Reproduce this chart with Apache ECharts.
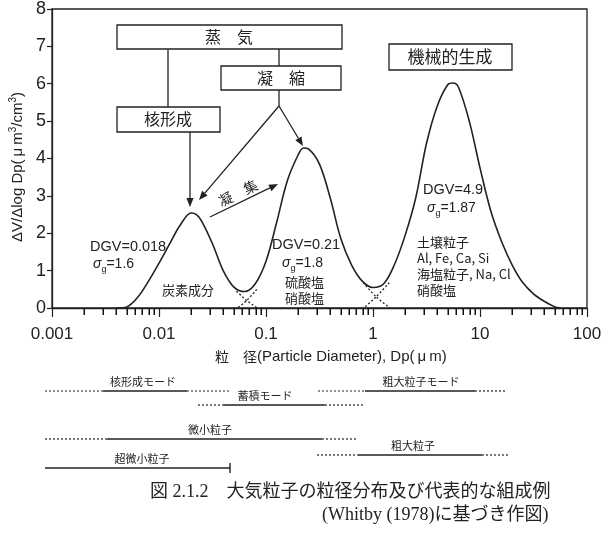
<!DOCTYPE html>
<html>
<head>
<meta charset="utf-8">
<script src="https://cdn.jsdelivr.net/npm/echarts@6/dist/echarts.min.js"></script>
<style>
html,body{margin:0;padding:0;background:#fff}
#main{width:605px;height:538px}
</style>
</head>
<body>
<div id="main"></div>
<script>
// 粒径 (μm) と ΔV/Δlog Dp の読み取り値
var diam = [0.004, 0.005, 0.0063, 0.0079, 0.01, 0.0126, 0.0158, 0.02, 0.0224, 0.0251, 0.0316, 0.0398, 0.0501, 0.0631, 0.0794,
  0.1, 0.126, 0.158, 0.2, 0.224, 0.251, 0.316, 0.398, 0.501, 0.631, 0.794,
  1.0, 1.26, 1.58, 2.0, 2.51, 3.16, 3.98, 5.01, 5.62, 6.31, 7.94, 10, 12.6, 15.8, 20, 25.1, 31.6, 39.8, 50.1, 56.2];
var dvdlogdp = [0, 0.03, 0.28, 0.70, 1.20, 1.72, 2.22, 2.54, 2.50, 2.32, 1.72, 1.00, 0.56, 0.44, 0.65,
  1.25, 2.30, 3.40, 4.10, 4.28, 4.25, 3.85, 2.95, 1.85, 1.15, 0.72,
  0.55, 0.65, 1.15, 1.95, 2.95, 4.40, 5.40, 5.98, 6.02, 5.90, 5.00, 3.75, 2.60, 1.80, 1.15, 0.68, 0.38, 0.18, 0.03, 0];
// 谷の部分の各モードのすそ (点線)
var tailNuc = [[0.053, 0.45], [0.066, 0.2], [0.083, 0]];
var tailAccL = [[0.082, 0.5], [0.066, 0.2], [0.054, 0]];
var tailAccR = [[0.81, 0.68], [1.07, 0.3], [1.44, 0]];
var tailCoarse = [[1.42, 0.68], [1.07, 0.3], [0.82, 0]];
var xTickLabels = {0.001: '0.001', 0.01: '0.01', 0.1: '0.1', 1: '1', 10: '10', 100: '100'};
var minorTicks = [];
[0.001, 0.01, 0.1, 1, 10].forEach(function (d) {
  for (var k = 2; k <= 9; k++) minorTicks.push(+(d * k).toPrecision(3));
});

var SANS = "'Liberation Sans', 'Noto Sans CJK JP', sans-serif";
var CJK = "'Noto Sans CJK JP', sans-serif";
var SERIF = "'Liberation Serif', 'Noto Sans CJK JP', serif";
var INK = '#222';

var chart = echarts.init(document.getElementById('main'));

function txt(x, y, text, size, fam, align, extra) {
  var st = {text: text, fontSize: size, fontFamily: fam || CJK, fill: INK,
    textAlign: align || 'left', align: align || 'left', textVerticalAlign: 'middle', verticalAlign: 'middle'};
  if (extra) for (var k in extra) st[k] = extra[k];
  return {type: 'text', x: x, y: y, silent: true, style: st};
}
function box(x1, y1, x2, y2) {
  return {type: 'rect', shape: {x: x1, y: y1, width: x2 - x1, height: y2 - y1},
    style: {fill: '#fff', stroke: INK, lineWidth: 1.3}, silent: true};
}
function seg(x1, y1, x2, y2, dash, w) {
  var st = {stroke: INK, lineWidth: w || 1.3};
  if (dash) st.lineDash = dash;
  return {type: 'line', shape: {x1: x1, y1: y1, x2: x2, y2: y2}, silent: true, style: st};
}
function arrow(x1, y1, x2, y2) {
  var a = Math.atan2(y2 - y1, x2 - x1), L = 9, W = 3.6;
  var bx = x2 - L * Math.cos(a), by = y2 - L * Math.sin(a);
  return [seg(x1, y1, bx, by),
    {type: 'polygon', silent: true, shape: {points: [[x2, y2], [bx + W * Math.sin(a), by - W * Math.cos(a)], [bx - W * Math.sin(a), by + W * Math.cos(a)]]},
      style: {fill: INK}}];
}
var richSig = {
  s: {fontSize: 14, fontStyle: 'italic', fontFamily: SANS, lineHeight: 20, verticalAlign: 'middle', fill: INK},
  g: {fontSize: 9, fontFamily: SANS, lineHeight: 9, verticalAlign: 'bottom', fill: INK},
  n: {fontSize: 14, fontFamily: SANS, lineHeight: 20, verticalAlign: 'middle', fill: INK}
};
function sigma(x, y, v) {
  return txt(x, y, '{s|σ}{g|g}{n|=' + v + '}', 14, SANS, 'left', {rich: richSig});
}

var dotted = {color: INK, width: 1.3, type: [2, 2]};
function tail(d) {
  return {type: 'line', data: d, showSymbol: false, silent: true, smooth: 0.3, lineStyle: dotted, z: 3};
}

chart.setOption({
  animation: false,
  backgroundColor: '#fff',
  grid: {left: 52, right: 18, top: 7, bottom: 230, show: true, borderColor: INK, borderWidth: 1.3},
  xAxis: {
    type: 'log', logBase: 10, min: 0.001, max: 100,
    axisLine: {lineStyle: {color: INK, width: 1.3}},
    axisTick: {inside: false, length: 9, lineStyle: {color: INK, width: 1.2}},
    axisLabel: {color: INK, fontSize: 17, fontFamily: SANS, margin: 18,
      formatter: function (v) { return xTickLabels[v] || xTickLabels[+v.toPrecision(3)] || ''; }},
    splitLine: {show: false}
  },
  yAxis: {
    type: 'value', min: 0, max: 8, interval: 1,
    axisLine: {show: true, lineStyle: {color: INK, width: 1.3}},
    axisTick: {show: true, length: 5, lineStyle: {color: INK, width: 1.2}},
    axisLabel: {color: INK, fontSize: 18, fontFamily: SANS, margin: 6},
    splitLine: {show: false}
  },
  series: [
    {type: 'line', data: diam.map(function (d, i) { return [d, dvdlogdp[i]]; }),
      smooth: 0.35, showSymbol: false, silent: true, lineStyle: {color: INK, width: 1.6}, z: 4},
    tail(tailNuc), tail(tailAccL), tail(tailAccR), tail(tailCoarse)
  ]
});

var g = [];
// 対数目盛の補助目盛 (軸のスケールで位置を求める)
minorTicks.forEach(function (v) {
  var p = chart.convertToPixel({gridIndex: 0}, [v, 0]);
  g.push({type: 'rect', z: 100, shape: {x: Math.round(p[0]) - 0.5, y: p[1], width: 1.5, height: 7},
    style: {fill: '#111'}});
});
// 上部の流れ図
g.push(seg(168, 49, 168, 107), seg(279, 49, 279, 66), seg(279, 90, 279, 106));
g = g.concat(arrow(190, 132, 190, 207), arrow(279, 106, 199, 200), arrow(279, 106, 303, 146), arrow(210, 217, 278, 184));
g.push(box(117, 25, 342, 49), box(221, 66, 341, 90), box(117, 107, 220, 132), box(389, 44, 512, 70));
g.push(txt(229, 37, '蒸　気', 16, CJK, 'center'), txt(281, 78, '凝　縮', 16, CJK, 'center'),
  txt(168, 119, '核形成', 16, CJK, 'center'), txt(450, 57, '機械的生成', 17, CJK, 'center'));
var agg = txt(0, 0, '凝　集', 14, CJK, 'center');
agg.x = 238; agg.y = 193; agg.rotation = 0.45;
g.push(agg);
// モードの注記
g.push(txt(90, 247, 'DGV=0.018', 14.5, SANS), sigma(93, 264, '1.6'),
  txt(272, 245, 'DGV=0.21', 14.5, SANS), sigma(282, 263, '1.8'),
  txt(423, 190, 'DGV=4.9', 14.5, SANS), sigma(427, 208, '1.87'));
g.push(txt(162, 290, '炭素成分', 13), txt(285, 282, '硫酸塩', 13), txt(285, 298, '硝酸塩', 13),
  txt(417, 242, '土壌粒子', 13), txt(417, 258, 'Al, Fe, Ca, Si', 13), txt(417, 274, '海塩粒子, Na, Cl', 13), txt(417, 290, '硝酸塩', 13));
// 軸の名前
var yName = txt(0, 0, '{n|ΔV/Δlog Dp(}{mu|μ}{n|m}{sup|3}{n|/cm}{sup|3}{n|)}', 15, SANS, 'center', {rich: {
  n: {fontSize: 15, fontFamily: SANS, lineHeight: 20, verticalAlign: 'middle', fill: INK},
  mu: {fontSize: 15, fontFamily: SANS, lineHeight: 20, verticalAlign: 'middle', padding: [0, 3, 0, 3], fill: INK},
  sup: {fontSize: 10, fontFamily: SANS, lineHeight: 9, verticalAlign: 'top', fill: INK}
}});
yName.x = 18; yName.y = 167; yName.rotation = Math.PI / 2;
g.push(yName);
g.push(txt(215, 357, '{c|粒　径}{n|(Particle Diameter), Dp(}{mu|μ}{n|m)}', 15, SANS, 'left', {rich: {
  c: {fontSize: 14, fontFamily: CJK, fill: INK},
  n: {fontSize: 15, fontFamily: SANS, fill: INK},
  mu: {fontSize: 15, fontFamily: SANS, padding: [0, 3, 0, 3], fill: INK}
}}));
// 下のモード区分
var bandLayout = [
  {label: '核形成モード', y: 391, lx: 143, dl: 45, sl: 103, sr: 187, dr: 230},
  {label: '粗大粒子モード', y: 391, lx: 421, dl: 318, sl: 365, sr: 475, dr: 507},
  {label: '蓄積モード', y: 405, lx: 265, dl: 198, sl: 223, sr: 325, dr: 365},
  {label: '微小粒子', y: 439, lx: 210, dl: 45, sl: 107, sr: 322, dr: 358},
  {label: '粗大粒子', y: 455, lx: 413, dl: 317, sl: 358, sr: 482, dr: 508},
  {label: '超微小粒子', y: 468, lx: 142, dl: 45, sl: 45, sr: 230, dr: 230}
];
bandLayout.forEach(function (b) {
  if (b.sl > b.dl) g.push(seg(b.dl, b.y, b.sl, b.y, [2, 2], 1.2));
  g.push(seg(b.sl, b.y, b.sr, b.y, null, 1.6));
  if (b.dr > b.sr) g.push(seg(b.sr, b.y, b.dr, b.y, [2, 2], 1.2));
  else g.push(seg(b.sr, b.y - 5, b.sr, b.y + 5, null, 1.4));
  g.push(txt(b.lx, b.y - 9, b.label, 11, CJK, 'center'));
});
// キャプション
g.push(txt(150, 492, '図 2.1.2　大気粒子の粒径分布及び代表的な組成例', 18, SERIF),
  txt(322, 515, '(Whitby (1978)に基づき作図)', 18, SERIF));

chart.setOption({graphic: g});
</script>
</body>
</html>
